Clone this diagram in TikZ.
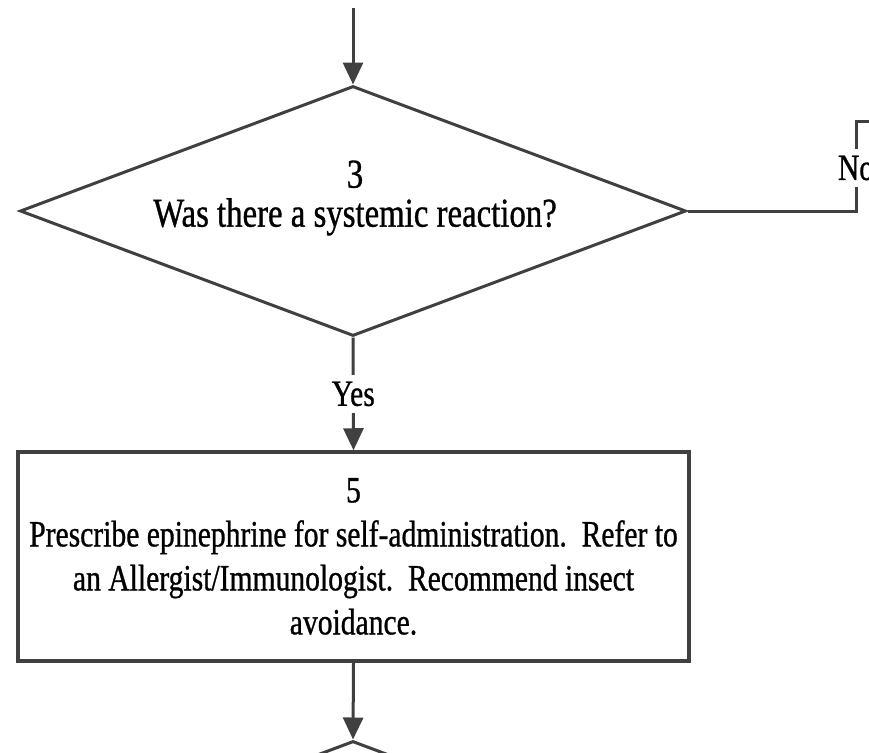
\documentclass[tikz,border=0pt]{standalone}
\usepackage{fontspec}
\setmainfont{Liberation Serif}[FakeStretch=0.8, FakeBold=0.8]
\usetikzlibrary{positioning, shapes.geometric, arrows.meta, calc}

\begin{document}
\begin{tikzpicture}[
    % GLOBAL CFG
    x=1pt, y=-1pt,
    font=\fontsize{37}{44}\selectfont,
    >={Triangle[width=20pt,length=22pt]},
    % Styles
    decision/.style={% For the question diamonds
        diamond,
        draw=black!75,
        line width=3pt,
        aspect=2.66,
        minimum width=666pt,
        minimum height=250pt,
        inner sep=0pt,
        },
    question/.style={% Text set in a diamond
        align=center,
        font=\fontsize{41}{39}\selectfont,
        },
    action/.style={% For the action boxes
        rectangle,
        draw=black!75,
        line width=3.5pt,
        minimum width=671pt,
        minimum height=209pt,
        align=center,
        },
    answer/.style={% Yes and No sitting on the lines
        fill=white,
        inner xsep=1pt,
        inner ysep=7pt,
        },
    Flow/.style={% Connectors
        draw=black!75,
        line width=3pt,
        },
    ]

    % Fix the page and cut what runs over it
    \useasboundingbox (0,0) rectangle (869,752);
    \clip (0,0) rectangle (869,752);

    % Draw the question and the action
    \node [decision] (q3) at (353,211) {};
    \node [question] (q3text) at (355,198) {3\\Was there a systemic reaction?};
    \node [action] (act5) at (353.5,556.5) {5\\Prescribe epinephrine for self-administration.\ \ Refer to\\an Allergist/Immunologist.\ \ Recommend insect\\avoidance.};
    \node [decision] (q6) at (353,866) {};

    % Free ends
    \coordinate (in) at (353,8);
    \coordinate (noturn) at (856,121);
    \coordinate (noend) at (880,121);

    % Start connecting all.
    \draw [Flow, ->] (in) -- (q3.north);
    \draw [Flow, ->] (q3.south) -- node[answer] (yes) {Yes} (act5.north);
    \draw [Flow, ->] (act5.south) -- (q6.north);

    % The No branch leaves to the right
    \draw [Flow] (q3.east) -| (noturn) -- (noend);
    \node [answer] (no) at (856,168) {No};
\end{tikzpicture}
\end{document}
